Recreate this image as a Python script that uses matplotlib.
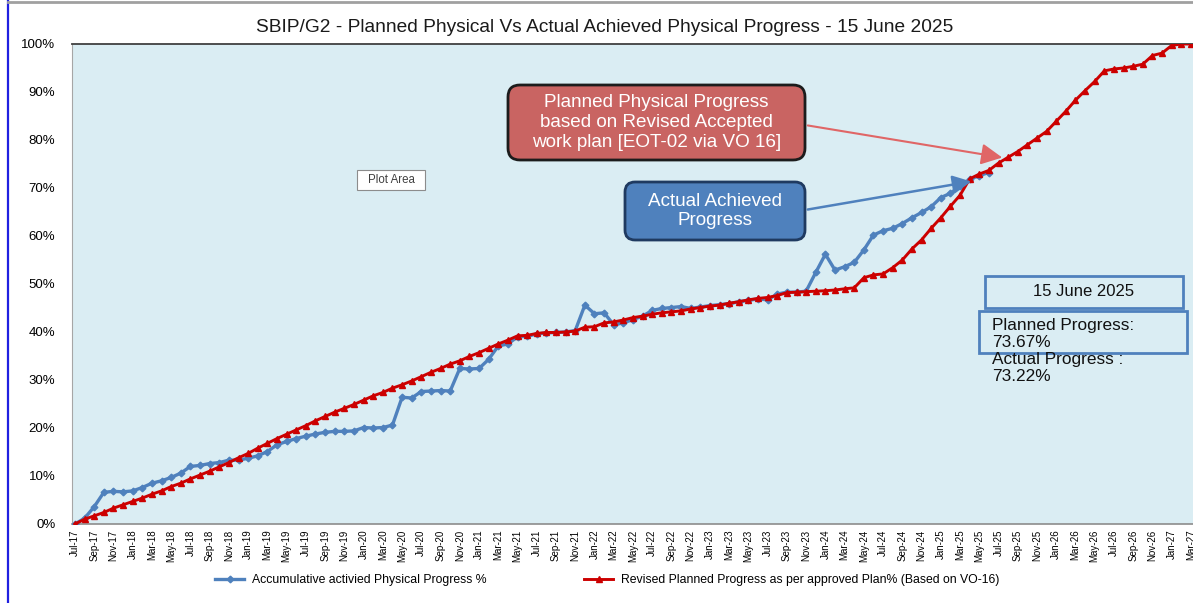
import matplotlib
matplotlib.use('Agg')
import matplotlib.pyplot as plt
import pandas as pd
from matplotlib.patches import FancyBboxPatch, Rectangle, FancyArrowPatch
from matplotlib.lines import Line2D

plt.rcParams['font.family'] = ['Liberation Sans', 'DejaVu Sans']

# ---------------- data ----------------
months = pd.date_range('2017-07-01', periods=117, freq='MS').strftime('%b-%y').tolist()

actual = [0.0, 1.2, 3.6, 6.6, 6.8, 6.7, 6.9, 7.6, 8.5, 9.0,
          9.7, 10.6, 12.0, 12.2, 12.6, 12.8, 13.3, 13.3, 13.7, 14.2,
          15.1, 16.5, 17.2, 17.8, 18.3, 18.75, 19.1, 19.3, 19.3, 19.4,
          20.1, 20.0, 20.1, 20.6, 26.4, 26.25, 27.6, 27.7, 27.8, 27.7,
          32.4, 32.3, 32.4, 34.3, 37.1, 37.5, 39.0, 39.1, 39.6, 39.8,
          39.9, 40.0, 40.3, 45.6, 43.8, 44.0, 41.5, 41.9, 42.6, 43.3,
          44.5, 44.9, 45.1, 45.3, 44.9, 45.2, 45.5, 45.7, 45.9, 46.3,
          46.6, 46.9, 46.7, 47.9, 48.3, 48.3, 48.5, 52.4, 56.2, 52.9,
          53.6, 54.5, 57.1, 60.2, 61.1, 61.6, 62.6, 63.8, 64.9, 66.1,
          68.0, 68.9, 70.4, 71.8, 72.6, 73.22]

planned = [0.0, 1.0, 1.7, 2.4, 3.3, 4.0, 4.7, 5.4, 6.2, 6.9,
           7.8, 8.5, 9.4, 10.2, 11.0, 11.9, 12.8, 13.8, 14.7, 15.8,
           16.8, 17.8, 18.7, 19.6, 20.5, 21.5, 22.4, 23.3, 24.1, 24.9,
           25.8, 26.7, 27.4, 28.3, 29.0, 29.8, 30.7, 31.6, 32.4, 33.3,
           34.0, 34.9, 35.7, 36.6, 37.5, 38.3, 39.2, 39.3, 39.7, 39.9,
           39.9, 40.0, 40.2, 41.0, 41.1, 41.9, 42.1, 42.5, 43.0, 43.3,
           43.7, 44.0, 44.2, 44.4, 44.8, 45.1, 45.4, 45.6, 46.0, 46.3,
           46.7, 47.0, 47.2, 47.6, 48.2, 48.3, 48.4, 48.5, 48.6, 48.75,
           49.0, 49.2, 51.3, 51.9, 52.1, 53.4, 55.0, 57.3, 59.2, 61.6,
           63.8, 66.2, 68.5, 71.9, 72.9, 73.67, 75.2, 76.4, 77.6, 79.0,
           80.4, 81.8, 83.9, 86.0, 88.3, 90.3, 92.2, 94.4, 94.8, 95.0,
           95.35, 95.8, 97.6, 98.1, 99.7, 100.0, 100.0]

yticks = [0, 10, 20, 30, 40, 50, 60, 70, 80, 90, 100]

title = 'SBIP/G2 - Planned Physical Vs Actual Achieved Physical Progress - 15 June 2025'
label_actual = 'Accumulative activied Physical Progress %'
label_planned = 'Revised Planned Progress as per approved Plan% (Based on VO-16)'
note_planned = 'Planned Physical Progress\nbased on Revised Accepted\nwork plan [EOT-02 via VO 16]'
note_actual = 'Actual Achieved\nProgress'
date_box = '15 June 2025'
summary_box = 'Planned Progress:\n73.67%\nActual Progress :\n73.22%'

# ---------------- figure ----------------
W, H = 1193, 603
fig = plt.figure(figsize=(W / 100, H / 100), dpi=100)
fig.patch.set_facecolor('white')


def P(x, y):
    return (x / 100.0, (H - y) / 100.0)


tr = fig.dpi_scale_trans

x_left, x_right, y_top, y_bot = 72, 1230, 44, 524
ax = fig.add_axes([x_left / W, (H - y_bot) / H, (x_right - x_left) / W, (y_bot - y_top) / H])
ax.set_facecolor('#DAEDF3')

xs_a = list(range(len(actual)))
xs_p = list(range(len(planned)))
la, = ax.plot(xs_a, actual, color='#4F81BD', lw=2.4, marker='D', ms=3.4,
              mfc='#4F81BD', mec='#4F81BD', zorder=3, label=label_actual)
lp, = ax.plot(xs_p, planned, color='#CC0000', lw=2.1, marker='^', ms=5,
              mfc='#CC0000', mec='#CC0000', zorder=4, label=label_planned)

ax.set_xlim(-0.31, 120.06)
ax.set_ylim(0, 100)
ax.set_yticks(yticks)
ax.set_yticklabels([f'{v}%' for v in yticks], fontsize=9.5)
ax.set_xticks(xs_p[::2])
ax.set_xticklabels(months[::2], rotation=90, fontsize=7)
ax.tick_params(axis='y', length=0, pad=12)
ax.tick_params(axis='x', length=0, pad=4)
ax.spines['right'].set_visible(False)
ax.spines['top'].set_color('#404040')
ax.spines['top'].set_linewidth(1.3)
ax.spines['left'].set_color('#A6A6A6')
ax.spines['bottom'].set_color('#8C8C8C')
ax.spines['bottom'].set_linewidth(1.2)

# title
fig.text(605 / W, 1 - 28 / H, title, ha='center', va='center', fontsize=13.8, color='#1a1a1a')

# legend
fig.legend(handles=[la, lp], loc='center', bbox_to_anchor=(607 / W, 1 - 580 / H), ncol=2,
           frameon=False, fontsize=8.8, handlelength=2.4, columnspacing=8.0, handletextpad=0.6)

# screenshot border lines
fig.add_artist(Line2D([8 / W, 8 / W], [0, 1], color='#2020E0', lw=1.6, transform=fig.transFigure))
fig.add_artist(Line2D([8 / W, 1], [1 - 2 / H, 1 - 2 / H], color='#A0A0A0', lw=2, transform=fig.transFigure))

# red callout box
x0, y0, x1, y1 = 508, 85, 805, 160
fig.add_artist(FancyBboxPatch(P(x0, y1), (x1 - x0) / 100, (y1 - y0) / 100,
                              boxstyle='round,pad=0,rounding_size=0.12', transform=tr,
                              fc='#C96462', ec='#1c1c1c', lw=2, zorder=5))
fig.text(*P((x0 + x1) / 2, (y0 + y1) / 2), note_planned, transform=tr, ha='center', va='center',
         fontsize=13.6, color='white', linespacing=1.2, zorder=6)
fig.add_artist(FancyArrowPatch(P(805, 125), P(1005, 158), transform=tr,
                               arrowstyle='-|>,head_length=8,head_width=4', mutation_scale=1.6,
                               color='#E06666', lw=1.5, zorder=6))

# blue callout box
x0, y0, x1, y1 = 625, 182, 805, 240
fig.add_artist(FancyBboxPatch(P(x0, y1), (x1 - x0) / 100, (y1 - y0) / 100,
                              boxstyle='round,pad=0,rounding_size=0.1', transform=tr,
                              fc='#4F81BD', ec='#1F3A60', lw=2, zorder=5))
fig.text(*P((x0 + x1) / 2, (y0 + y1) / 2), note_actual, transform=tr, ha='center', va='center',
         fontsize=13.6, color='white', linespacing=1.2, zorder=6)
fig.add_artist(FancyArrowPatch(P(805, 210), P(974, 181), transform=tr,
                               arrowstyle='-|>,head_length=7,head_width=3.5', mutation_scale=1.6,
                               color='#4F81BD', lw=1.8, zorder=6))

# "Plot Area" tooltip
x0, y0, x1, y1 = 357, 170, 425, 190
fig.add_artist(Rectangle(P(x0, y1), (x1 - x0) / 100, (y1 - y0) / 100, transform=tr,
                         fc='white', ec='#8C8C8C', lw=0.8, zorder=5))
fig.text(*P((x0 + x1) / 2, (y0 + y1) / 2), 'Plot Area', transform=tr, ha='center', va='center',
         fontsize=8.3, color='#404040', zorder=6)

# date box
x0, y0, x1, y1 = 985, 276, 1183, 308
fig.add_artist(Rectangle(P(x0, y1), (x1 - x0) / 100, (y1 - y0) / 100, transform=tr,
                         fc='none', ec='#4F81BD', lw=2, zorder=5))
fig.text(*P((x0 + x1) / 2, (y0 + y1) / 2), date_box, transform=tr, ha='center', va='center',
         fontsize=12, color='#111111', zorder=6)

# summary box
x0, y0, x1, y1 = 979, 311, 1187, 353
fig.add_artist(Rectangle(P(x0, y1), (x1 - x0) / 100, (y1 - y0) / 100, transform=tr,
                         fc='none', ec='#4F81BD', lw=2, zorder=5))
fig.text(*P(992, 318), summary_box, transform=tr, ha='left', va='top',
         fontsize=12.4, color='#111111', linespacing=1.16, zorder=6)

fig.savefig('out.png', dpi=100)
